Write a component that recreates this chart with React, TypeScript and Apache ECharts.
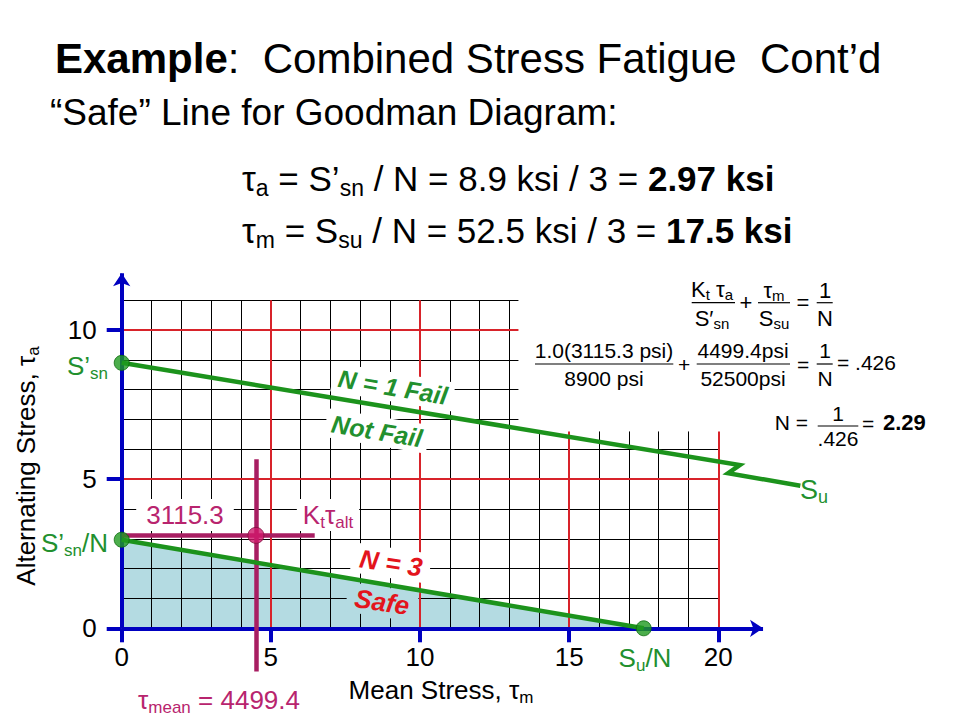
import React, { useEffect, useRef } from 'react';
import * as echarts from 'echarts';

const FONT = '"Liberation Sans", Arial, Helvetica, sans-serif';

// ---- axes ----
const xTickValues = [0, 5, 10, 15, 20];
const yTickValues = [0, 5, 10];
const xAxisMax = 20;
const yAxisMax = 11;
const majorEvery = 5;
// region of the grid hidden by the formula block (top right)
const gridCutX = 13.3;
const gridCutY = 6.6;

// ---- Goodman lines (ksi) ----
const failLinePts = [[0, 8.9], [20.72, 5.47], [20.33, 5.2], [22.75, 4.78]]; // N = 1, with break
const safeLinePts = [[0, 2.97], [17.5, 0]]; // N = 3
const strengthPts = [[0, 8.9], [0, 2.97], [17.5, 0]]; // S'sn, S'sn/N, Su/N
const operatingPt = [[4.4994, 3.1153]]; // (tau_mean, Kt tau_alt)
const tauAltPts = [[0, 3.1153], [6.47, 3.1153]];
const tauMeanPts = [[4.4994, -1.45], [4.4994, 5.67]];
const xAxisPts = [[0, 0], [21.5, 0]];
const yAxisPts = [[0, 0], [0, 11.9]];

const C = {
  green: '#1c931c',
  greenText: '#22902e',
  red: '#e3141c',
  gridRed: '#d8232a',
  blue: '#0000c0',
  magenta: '#a81e62',
  magentaText: '#b8246e',
  magentaPt: '#d0186c',
  fill: '#b4dbe2',
};

function subStyle(size: number, color: string, weight = 'normal', fstyle = 'normal') {
  const s = Math.round(size * 0.66);
  const h = Math.round(s * 0.7);
  return { fontSize: s, height: h, lineHeight: h, verticalAlign: 'bottom', fill: color, fontFamily: FONT, fontWeight: weight, fontStyle: fstyle };
}

function T(x: number, y: number, text: string, o: any = {}) {
  const size = o.size ?? 24;
  const color = o.color ?? '#000';
  const weight = o.weight ?? 'normal';
  const fstyle = o.italic ? 'italic' : 'normal';
  return {
    type: 'text',
    x,
    y,
    rotation: o.rot ?? 0,
    z: o.z ?? 20,
    silent: true,
    style: {
      text,
      fill: color,
      fontSize: size,
      fontFamily: FONT,
      fontWeight: weight,
      fontStyle: fstyle,
      lineHeight: size,
      align: o.align ?? 'center',
      verticalAlign: 'middle',
      backgroundColor: o.bg,
      padding: o.pad,
      rich: {
        s: subStyle(size, color, weight, fstyle),
        b: { fontSize: size, lineHeight: size, fill: color, fontFamily: FONT, fontWeight: 'bold', fontStyle: fstyle },
      },
    },
  };
}

function bar(x1: number, x2: number, y: number) {
  return { type: 'line', z: 20, silent: true, shape: { x1, y1: y, x2, y2: y }, style: { stroke: '#000', lineWidth: 1.2 } };
}

function buildGrid() {
  const black: any[] = [];
  const red: any[] = [];
  for (let x = 1; x <= xAxisMax; x++) {
    const top = x <= Math.floor(gridCutX) ? yAxisMax : gridCutY;
    (x % majorEvery === 0 ? red : black).push({ coords: [[x, 0], [x, top]] });
  }
  for (let y = 1; y <= yAxisMax; y++) {
    const right = y <= Math.floor(gridCutY) ? xAxisMax : gridCutX;
    (y % majorEvery === 0 ? red : black).push({ coords: [[0, y], [right, y]] });
  }
  return { black, red };
}

export default function App() {
  const ref = useRef<HTMLDivElement>(null);
  useEffect(() => {
    const chart = echarts.init(ref.current!, null, { renderer: 'svg' });
    const grid = buildGrid();
    const seg = (pts: number[][]) => ({ coords: pts });
    const linesBase = { type: 'lines', coordinateSystem: 'cartesian2d', silent: true, clip: false, animation: false };

    const labelTicks = (vals: number[]) => (v: number) => (vals.includes(v) ? String(v) : '');

    const graphic: any[] = [
      // titles
      T(55, 58, '{b|Example}:  Combined Stress Fatigue  Cont’d', { size: 42, align: 'left' }),
      T(50, 112, '“Safe” Line for Goodman Diagram:', { size: 37, align: 'left' }),
      T(242, 178, 'τ{s|a} = S’{s|sn} / N = 8.9 ksi / 3 = {b|2.97 ksi}', { size: 35, align: 'left' }),
      T(242, 230, 'τ{s|m} = S{s|su} / N = 52.5 ksi / 3 = {b|17.5 ksi}', { size: 35, align: 'left' }),

      // formula 1
      T(712, 289, 'K{s|t} τ{s|a}', { size: 22 }),
      bar(691.7, 735, 302.7),
      T(712, 318, 'S′{s|sn}', { size: 22 }),
      T(746, 302, '+', { size: 22 }),
      T(774, 290, 'τ{s|m}', { size: 22 }),
      bar(758, 790, 302.7),
      T(774, 318, 'S{s|su}', { size: 22 }),
      T(803, 302, '=', { size: 22 }),
      T(825, 290, '1', { size: 22 }),
      bar(816.7, 832.7, 302.7),
      T(825, 318, 'N', { size: 22 }),

      // formula 2
      T(604, 350, '1.0(3115.3 psi)', { size: 21 }),
      bar(535, 673.3, 364),
      T(604, 378, '8900 psi', { size: 21 }),
      T(684, 364, '+', { size: 21 }),
      T(743, 350, '4499.4psi', { size: 21 }),
      bar(696.7, 790, 364),
      T(743, 378, '52500psi', { size: 21 }),
      T(803, 364, '=', { size: 21 }),
      T(825, 350, '1', { size: 21 }),
      bar(816.7, 832.7, 364),
      T(825, 378, 'N', { size: 21 }),
      T(837, 362, '= .426', { size: 21, align: 'left' }),

      // formula 3
      T(808, 422, 'N =', { size: 21, align: 'right' }),
      T(838, 413, '1', { size: 21 }),
      bar(817.7, 858.3, 426),
      T(838, 438, '.426', { size: 21 }),
      T(868, 423, '=', { size: 21 }),
      T(883, 422, '{b|2.29}', { size: 22, align: 'left' }),

      // axis names
      T(441, 690, 'Mean Stress, τ{s|m}', { size: 26 }),
      T(26, 466, 'Alternating Stress, τ{s|a}', { size: 26, rot: Math.PI / 2 }),

      // region labels (boxes hide the grid)
      T(393, 387, 'N = 1 Fail', { size: 25, color: C.greenText, weight: 'bold', italic: true, rot: -0.165, bg: '#fff', pad: [2, 6], z: 4 }),
      T(377, 431, 'Not Fail', { size: 25, color: C.greenText, weight: 'bold', italic: true, rot: -0.165, bg: '#fff', pad: [2, 6], z: 4 }),
      T(391, 563, 'N = 3', { size: 26, color: C.red, weight: 'bold', italic: true, rot: -0.15, bg: '#fff', pad: [2, 8], z: 4 }),
      T(382, 602, 'Safe', { size: 26, color: C.red, weight: 'bold', italic: true, rot: -0.15, bg: C.fill, pad: [2, 8], z: 4 }),

      // operating point labels
      T(185, 515, '3115.3', { size: 26, color: C.magentaText, bg: '#fff', pad: [3, 10], z: 4 }),
      T(328, 515, 'K{s|t}τ{s|alt}', { size: 26, color: C.magentaText, bg: '#fff', pad: [3, 6], z: 4 }),
      T(219, 700, 'τ{s|mean} = 4499.4', { size: 26, color: C.magentaText }),

      // strength point labels
      T(108, 366, 'S’{s|sn}', { size: 26, color: C.greenText, align: 'right' }),
      T(108, 543, 'S’{s|sn}/N', { size: 26, color: C.greenText, align: 'right' }),
      T(800, 490, 'S{s|u}', { size: 27, color: C.greenText, align: 'left' }),
      T(645, 658, 'S{s|u}/N', { size: 26, color: C.greenText }),
    ];

    const option: any = {
      animation: false,
      backgroundColor: '#ffffff',
      grid: { left: 121.7, top: 300.2, width: 596.6, height: 328.1, containLabel: false },
      xAxis: {
        type: 'value',
        min: 0,
        max: xAxisMax,
        interval: 5,
        axisLine: { show: false },
        axisTick: { show: true, length: 14, customValues: xTickValues, lineStyle: { color: C.blue, width: 4 } },
        axisLabel: { show: true, customValues: xTickValues, formatter: labelTicks(xTickValues), margin: 16, fontSize: 26, color: '#000', fontFamily: FONT },
        splitLine: { show: false },
      },
      yAxis: {
        type: 'value',
        min: 0,
        max: yAxisMax,
        interval: 5,
        axisLine: { show: false },
        axisTick: { show: true, length: 15, customValues: yTickValues, lineStyle: { color: C.blue, width: 4 } },
        axisLabel: { show: true, customValues: yTickValues, formatter: labelTicks(yTickValues), margin: 25, fontSize: 26, color: '#000', fontFamily: FONT },
        splitLine: { show: false },
      },
      series: [
        { type: 'line', data: safeLinePts, symbol: 'none', lineStyle: { width: 0 }, areaStyle: { color: C.fill, opacity: 1 }, z: 1, silent: true },
        { ...linesBase, data: grid.black, lineStyle: { color: '#000', width: 1, opacity: 1 }, z: 2 },
        { ...linesBase, data: grid.red, lineStyle: { color: C.gridRed, width: 2, opacity: 1 }, z: 3 },
        { ...linesBase, data: [seg(xAxisPts), seg(yAxisPts)], symbol: ['none', 'arrow'], symbolSize: 13, lineStyle: { color: C.blue, width: 4, opacity: 1 }, z: 5 },
        { ...linesBase, data: [seg(tauAltPts), seg(tauMeanPts)], lineStyle: { color: C.magenta, width: 4.5, opacity: 1 }, z: 5 },
        { ...linesBase, data: [seg(safeLinePts)], lineStyle: { color: C.green, width: 4.5, opacity: 1 }, z: 6 },
        { ...linesBase, polyline: true, data: [seg(failLinePts)], symbol: ['none', 'arrow'], symbolSize: 14, lineStyle: { color: C.green, width: 4.5, opacity: 1 }, z: 6 },
        { type: 'scatter', data: strengthPts, symbol: 'circle', symbolSize: 15, itemStyle: { color: '#1f9a1f', borderColor: '#0d6a0d', borderWidth: 1 }, z: 7, clip: false, silent: true },
        { type: 'scatter', data: operatingPt, symbol: 'circle', symbolSize: 16, itemStyle: { color: C.magentaPt, borderColor: '#80103f', borderWidth: 1 }, z: 7, clip: false, silent: true },
      ],
      graphic,
    };
    chart.setOption(option);
    return () => chart.dispose();
  }, []);
  return <div ref={ref} style={{ position: 'fixed', left: 0, top: 0, width: 960, height: 720, background: '#fff' }} />;
}
